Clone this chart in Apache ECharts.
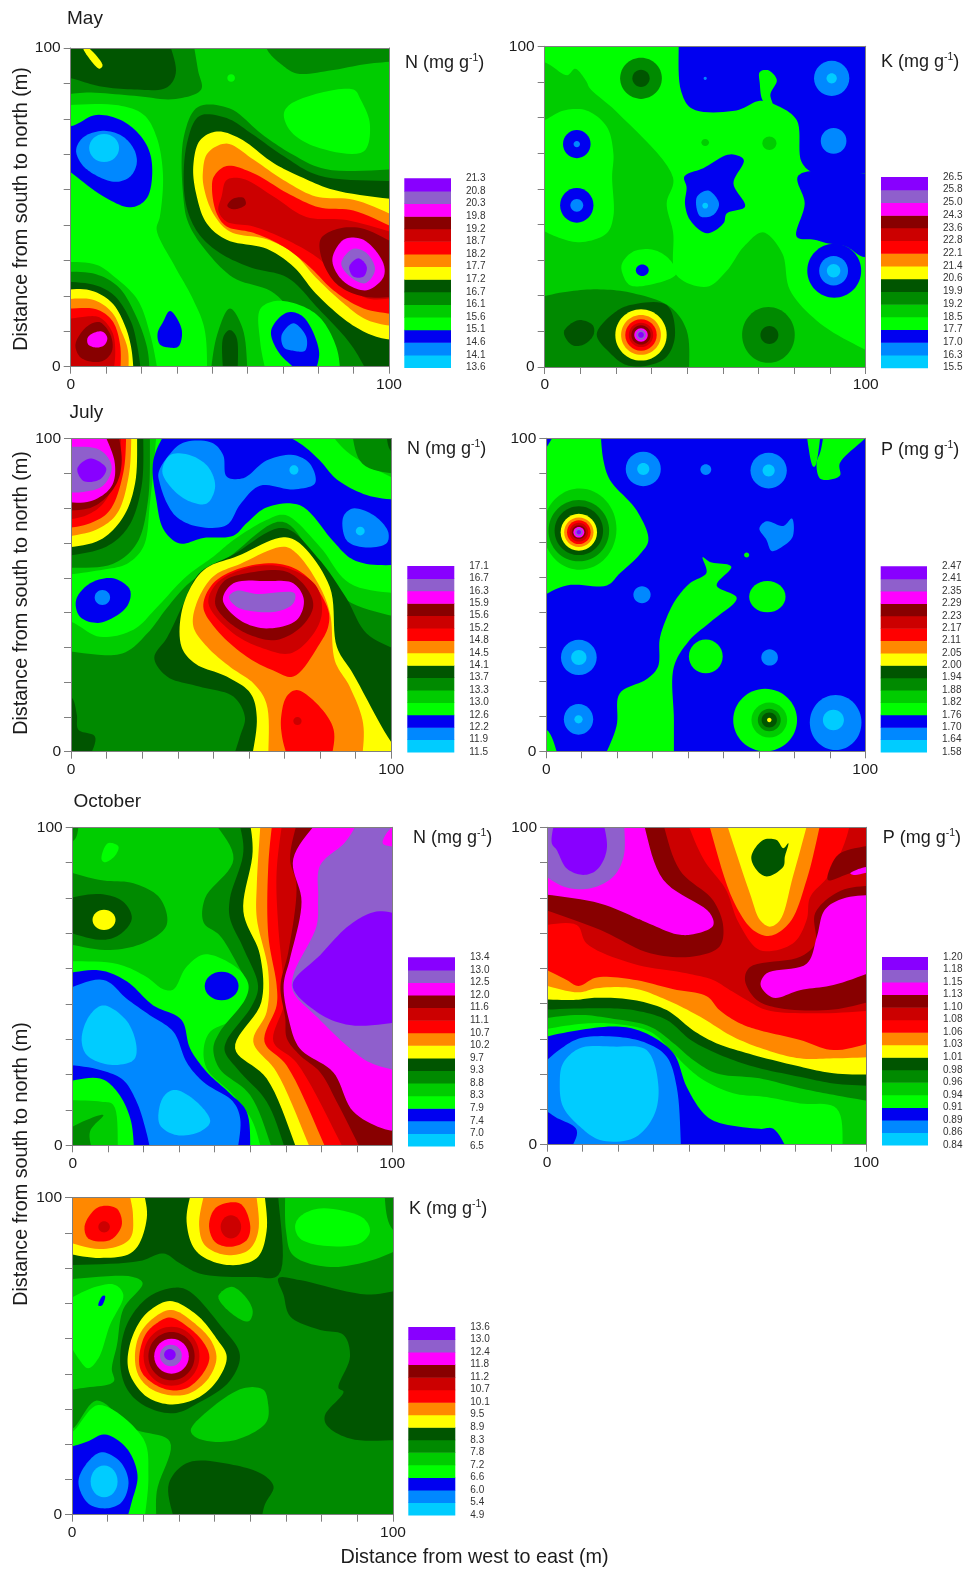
<!DOCTYPE html>
<html><head><meta charset="utf-8"><title>Soil nutrient contour maps</title>
<style>html,body{margin:0;padding:0;background:#fff}#c{width:966px;height:1570px}</style>
<script src="https://cdn.jsdelivr.net/npm/echarts@6/dist/echarts.min.js"></script></head>
<body><div id="c"></div>
<script>
// Colour of each contour band, lowest class first.
const bandColors=['#00CCFF','#0088FF','#0000F0','#00FF00','#00CC00','#008A00','#005500','#FFFF00','#FF8800','#FF0000','#CC0000','#880000','#FF00FF','#8F5FCC','#8800FF'];
// Class-boundary labels, top of the scale first.
const mayNLabels=['21.3','20.8','20.3','19.8','19.2','18.7','18.2','17.7','17.2','16.7','16.1','15.6','15.1','14.6','14.1','13.6'];
const mayKLabels=['26.5','25.8','25.0','24.3','23.6','22.8','22.1','21.4','20.6','19.9','19.2','18.5','17.7','17.0','16.3','15.5'];
const julNLabels=['17.1','16.7','16.3','15.9','15.6','15.2','14.8','14.5','14.1','13.7','13.3','13.0','12.6','12.2','11.9','11.5'];
const julPLabels=['2.47','2.41','2.35','2.29','2.23','2.17','2.11','2.05','2.00','1.94','1.88','1.82','1.76','1.70','1.64','1.58'];
const octNLabels=['13.4','13.0','12.5','12.0','11.6','11.1','10.7','10.2','9.7','9.3','8.8','8.3','7.9','7.4','7.0','6.5'];
const octPLabels=['1.20','1.18','1.15','1.13','1.10','1.08','1.06','1.03','1.01','0.98','0.96','0.94','0.91','0.89','0.86','0.84'];
const octKLabels=['13.6','13.0','12.4','11.8','11.2','10.7','10.1','9.5','8.9','8.3','7.8','7.2','6.6','6.0','5.4','4.9'];

// Contour regions in metres. [class, x,y, x,y, ...] is a closed contour; [class, cx,cy, rx,ry] an oval contour.
const mayNRegions=[
[3,-5,82,15,82,23,79,27,72,29,60,28,47,27,43,33,31,38,22,42,12,43,-5,28,-5,25,10,21,21,14,28,8,32,-5,33],
[5,-5,105,38,105,40,93,41,87,33,84,20,85,5,86,-5,85],
[6,-5,105,30,105,33,92,30,87.5,20,87,9,88,0,90.5,-5,91],
[7,4,100,5.5,100,10,94.5,9,93.5,6,96.5],
[5,60,105,62,99,66,95,71,92,82,93,93,95,105,96,105,105],
[3,50.4,90.6,1.2,1.2],
[3,67,79.6,70,83,88.8,87,91,84,94,76,92,67.5,77,69,69,74],
[5,-5,30,8,29,15,25,20,17,24,6,25,-5,-5,-5],
[6,-5,27,8,25.5,14,22,19,14,21,6,22.5,-5,-5,-5],
[7,-5,24,6,24,13,20,17,13,19,6,20,-5,-5,-5],
[8,-5,21,7,21,13,17,16,11,18,5,18,-5,-5,-5],
[9,-5,18,8,18,13,14.5,15.5,7,15.5,-5,-5,-5],
[10,-5,14,3,15.5,9,15.5,13,11,14,5,13,-5,-5,-5],
[11,1.5,7,5,12.5,9,14,12.5,10,13,5,10.5,2,7,1.5,3,3],
[12,5.3,9,7,10.5,10,11,11.5,9,10.5,6.7,8,6,5.5,7],
[2,-5,77,0,75.5,8,79,16.5,77,23,71,25.5,64,24,53,19,50,11,53,0,61,-5,65],
[1,1.7,68,4,72,10,74,16,72.5,20,68,20.7,63.5,18.5,59.5,14,58,8,60,3.5,63.5],
[0,10.5,68.6,4.7,4.4],
[2,27.3,10.5,29,14,31.2,17.5,34.9,11.5,33.8,6.3,31,6,28,7],
[5,43.5,-5,46,10,50,18.3,54,12,55.8,-5],
[6,48,-5,48,9.5,50,11.5,52,9.5,52.4,-5],
[5,35.5,52,35.5,72,40,81.5,50,81,60,73,69,67,80,62,105,62,105,-5,85,-5,74,10,64,23,51,28,42,37,37,45],
[3,59.5,18,63.7,20.5,70,20,78,15.7,83.5,6,85,-5,62,-5,59.5,8],
[2,63,11.5,68,17,73,15.7,78,5,77,-1.5,72,-2,65,5],
[1,66.3,10,70,13.6,74,9.4,73.6,5,70,5,67,6],
[6,36,52,36.5,70,40.5,78.7,49,78,57,73,67,66,78,60,105,58,105,-5,95,-5,88,7,78,18,68,28,57,31,47,35.6,40,42],
[7,38.5,62.8,40.6,71,45.9,73.8,53,71.7,63.7,63.9,72,59.7,82.5,55.5,105,52,105,8,96,9.4,87.7,13.6,77,23,70,31.4,61.6,37,49,39.8,42.7,45,39.6,53.4],
[8,41.5,60.7,43,67,49,70,57.4,65,66.8,58.6,77,53.4,88.8,52.4,105,46,105,12,93,14.7,85.6,20,77,28,70,35.6,61.6,40,50,42.4,44.8,48,42,55.5],
[9,44.4,55.5,45,59.7,49,63,57.4,60.7,68,54.5,78,50,88.8,49,105,42,105,16,92,18.3,82.5,24,75,31.4,66.8,37.7,57.4,42,49,44,45.9,48],
[10,47.4,53.4,49,58.6,54,59,63.7,53.4,74,47,86.7,46,105,41,105,22,93,21.5,84.6,28,77,34.6,67.8,39.8,57.4,44,49,45.5,46.4,49],
[11,49.2,50.5,51,52.7,54.3,53,55,51,53,49.7,50.5,49.5],
[11,78.5,40,83,43,91,43.5,105,37,105,22,92,22,83.5,26,79,33.5],
[12,82.3,34.5,86,40,92,39.8,98.2,32.5,98.2,28,93,24,86.7,26,83,30.4],
[13,85,32.5,88.8,37,93,35.6,95.6,30.4,92.5,26.2,87.7,28.3],
[14,87.5,31.4,90.4,34,93,31.4,92,28.3,88.8,28.3]
];
const mayKRegions=[
[4,-5,95,0,95,7,91,9.5,93,13,89,14,87,23,79,40,59,38,51,40,42,41,28.7,50.5,25,56.7,30,62,37.5,68,42,74,35.5,76.4,24,85.8,13.6,100,5.3,105,3,105,-5,-5,-5],
[3,24,32,27.6,36,34,36.5,39,33.4,41,29,32,25.5,26.6,25.5,24.5,28.4],
[3,-5,75,0,77,6,80,13,80,19.3,75,21.4,66.6,21,59.4,21.4,47,19.3,41.7,11,38.9,3.7,40.6,-5,45],
[5,30,90,6.5,6.4],
[6,30,90,2.7,2.7],
[4,50,70,1.2,1.1],
[4,70,69.8,2.2,2.1],
[5,-5,21,7,23.5,17.4,24.2,27.6,23,39,18.8,44.2,11.5,45,-5,2.7,-5,-5,4],
[6,6,11,10.5,14.6,15,13,15.2,10,12,6.9,8.4,6.9],
[6,16.2,10.2,21.4,16.7,26.6,19.3,38,19.3,40.6,10,38,3.2,32.8,0.6,25.5,0.6,20.4,4.3],
[7,30,10,8,8],[8,30,10,6.2,6.2],[9,30,10,4.9,4.9],[10,30,10,3.8,3.8],[11,30,10,3,3],[12,30,10,2.1,2.1],[13,30,10,1.5,1.5],[14,30,10,0.9,0.9],
[5,69.7,10,8.2,8.7],[6,70,10,2.8,2.8],
[2,41.7,105,42.5,86,46,80.5,59.7,80,67,83,72,81.7,78.5,77,80,64,84,60.4,99,60.4,105,61,105,105],
[3,68,83,67,88.5,67,92,69.7,92.5,72.3,89.5,70.3,85,71,81.5],
[2,79,59.7,105,60.2,105,34.4,99,34.4,94,37.5,88,38.6,84,39.7,78.5,40.6,81,51],
[2,90.2,30,8.4,8.4],
[2,10,69.5,4.3,4.4],[2,10,50.4,5.2,5.4],
[2,43.5,59.4,49.4,62,57.7,66.3,62,64.6,58.8,57.3,62.4,50,56.7,47.9,55.7,44.8,50.5,41.7,45.3,45.8,43.7,50.9,44.2,56],
[2,30.4,30.2,2,1.8],
[1,47.4,53,51,55,54.3,51,52.5,47.4,48.4,47],
[1,10,69.5,1,1],[1,10,50.4,2,2],[1,50,90,0.5,0.5],
[1,89.4,90,5.5,5.5],[1,90,70.5,4,4],[1,90,30,4.5,4.6],
[0,89.4,90,1.6,1.6],[0,90,30,2.1,2.1],[0,50,50.3,0.9,0.9]
];
const julNRegions=[
[3,27,105,78.8,105,86,96,105,85,105,50,87,53.8,77.7,65.5,67,75.6,61,74,50.7,67.6,44.4,62.3,36,56,26.7,46,19.5,39,9,36.7,0,41.5,-5,42,-5,56,9,58,17.4,60,22.6,65.5,24.7,80],
[5,87,105,91,92,105,88,105,105],
[6,98,105,100,96,105,96,105,105],
[5,-5,32.5,16,31.4,24,38,30,46,37,54,49,62,66,73.5,77,60,86,48.5,105,42,105,-5,-5,-5],
[6,26,30,30,36.5,34.8,46.6,40,57,50.7,63,66.3,71.5,77,62,86,49,92.3,37.8,105,31,105,-5,49.6,-5,52.8,5,54.3,11,50.7,17.6,40,20.8,30,24],
[6,-5,17.5,0,17.5,1.8,12,2.3,7,7.5,4.8,4.4,-5,-5,-5],
[7,34.5,33.5,35,46.6,41.4,58,52,62.5,66.3,68.5,71.5,66.5,80.8,52.6,83,33.5,88,25,100,3,105,-3,105,-5,56,-5,58,11,56,18.7,48.6,24,39,28],
[8,38.2,40,39.2,47.4,44.4,56,52.8,60,66.3,65.5,70.4,63.4,77.7,52.7,80.9,44,82.4,29,87,20.8,91.2,9,90.7,-5,61.6,-5,61,15.4,57,21.8,49.8,27,42.5,33.5],
[9,41.3,46.3,44.4,53.8,52.8,58.6,65.2,60,73.6,56,80.3,45.3,80.3,40,77.7,34.6,69.4,24,63,26,54.8,30.4,45.5,38.9],
[10,42.9,47.4,45.5,53.8,52.8,58,61,59.6,69.4,58,76.7,52.7,78.3,44,75,36.7,68.4,31.4,60,33,50.7,37.8],
[11,45,47.4,47.6,54.3,54.8,57,67.3,57.5,74,51.6,75.6,46.3,72,40,64.2,35.7,55.9,37.3,48.6,42],
[12,47.4,48.5,50.7,53.8,61,54.5,69.4,53.8,72.7,48.5,70.4,42,61,39.4,52.8,42],
[13,49.3,49.5,51.7,51.4,58,50.4,69.8,50.6,69.4,47.4,65.2,45,58,44.7,51.7,46.3],
[9,65.6,11,67.3,17.6,70.4,19.7,76.7,15.4,82,7,80.8,-5,68.5,-5,65.9,4.8],
[10,70.7,9.8,1.3,1.3],
[2,30.9,105,59,105,71.5,98.5,77.7,93,83,87,92.3,82,105,80,105,59.6,92.3,60,87,62,81.8,67.3,71.5,78.7,61,78,54.8,73,50.7,69,41.3,68.3,34,66.5,29,70.8,26.7,80,25.7,93],
[1,27.3,89,30,94,35,98.7,44,98.7,47.5,94.8,48.6,87.9,53.8,87.4,61,93,69.4,94.8,74.6,92,76.2,85.8,69.4,83.8,59,85,52.8,79,48.6,72.4,39.2,72,33,75,30,79.3,27.7,85.8],
[0,28.5,89.5,31,94.8,37,94.8,42.8,91,45,84.7,42.4,79.3,37.2,79.9,32,83.6],
[0,69.6,90,1.4,1.5],
[1,85,75,88,77.7,94.4,75.6,99,70.3,98.5,66.6,91.3,65.3,86,67.6],
[0,90.3,70.5,1.4,1.4],
[2,1.6,48.5,6,53.8,13.2,55.4,18.4,51.7,17.4,46.3,9,41.2,2.8,43.1],
[1,9.8,49.3,2.4,2.4],
[5,24.7,105,24,80,20.5,66.5,13,60,-5,58.6,-5,105],
[6,22.6,105,22,84.6,18,72,11,65.5,-5,61.8,-5,105],
[7,20.7,105,20,85.7,16.3,75,9,67.6,-5,64.6,-5,105],
[8,19,105,18,88,14.3,76,8,71,-5,68,-5,105],
[9,17.4,105,16.3,89,12,77,6,73,-5,70.8,-5,105],
[10,15.8,105,14.8,91,10.6,80,5,75.6,-5,73.5,-5,105],
[11,14.3,105,15.8,92,13.7,84.7,7,78.3,-5,76.7,-5,105],
[12,9,105,13.7,92,12.6,84.7,6,80,-5,80,-5,105],
[13,-5,97.5,9,96.4,12.7,91,10,85,3.9,83,-5,83],
[14,2,90.5,6,93.7,11,90.5,9,87,3.9,86.5]
];
const julPRegions=[
[3,-5,89,0,97,4.8,105,16.8,105,17.9,93,20,86.6,28.3,77,32,67.5,29.4,63,23,56.8,19,53,6.4,53,-5,47.5],
[4,10.5,71,11.5,13],[5,10.2,70.5,9.5,9.8],[6,10.2,70.5,7.6,7.8],
[7,10.2,70,5.7,5.9],[8,10.2,70,4.6,4.7],[9,10.2,70,3.7,3.8],[10,10.2,70,2.9,3],[11,10.2,70,2.2,2.2],[12,10.2,70,1.7,1.7],[13,10.2,70,1.2,1.2],[14,10.2,70,0.7,0.7],
[3,81,105,86.5,105,84.2,91,83.6,91],
[3,87.5,105,105,105,100,100,92,92,92,88,86,87,84.7,92,86,96],
[3,-5,7,0,7,4.8,-5,-5,-5],
[3,16.8,-5,22,8,23,18.5,31.4,23,35,27,35.5,35.5,36.7,40,40.3,48,45,53.7,50.2,57,49,62,51.3,60.5,58,59,53.4,53,59.7,49,52.3,42,45,35.6,40,27,40,10,40,-5],
[3,69.3,49.4,5.7,5],[3,50,30.3,5.3,5.4],[3,62.8,62.7,0.8,0.8],
[3,68.6,10,10,10],[4,69.9,10,5.6,5.6],[5,69.9,10,3.6,3.6],[6,69.9,10,2.4,2.4],[7,69.9,10,0.7,0.7],
[1,30.4,90.2,5.5,5.5],[0,30.4,90.2,1.9,1.9],[1,50,90,1.7,1.7],[1,69.7,89.7,5.7,5.7],[0,69.7,89.7,1.9,1.9],
[1,66.8,71.2,69,73.5,74.3,72,77,74.4,77.2,68.5,73.2,64.9,70.6,64,69,67.6],
[1,30,50,2.7,2.7],[1,10.2,30,5.6,5.6],[0,10.2,30,2.4,2.4],[1,70,30,2.6,2.6],[1,10.1,10.2,4.6,4.9],[0,10.1,10.2,1.3,1.3],
[1,90.7,9.2,8.1,8.8],[0,90,10,3.3,3.3]
];
const octNRegions=[
[3,9,90,11,95,14.3,94,13.2,91,10,89],
[5,-5,105,2.3,105,0.5,96,-5,95],
[5,-5,87.1,8.6,83.4,19,82.4,27.3,77.7,29.4,69.3,23,64,11.7,61.4,-5,64],
[6,-5,77,8.6,79,15.8,76.6,18.5,71.4,15.3,66.7,9.6,64.6,-5,68],
[7,9.8,70.9,3.6,3.2],
[3,-5,58,14,57,23,53,28.5,49,31.5,49,35.5,56,41,60,48,58,54.5,52.5,56,46,49,39,43,35.7,41,30.5,42,24,50,16,56,8,60,-5,-5,-5],
[4,-5,14.3,9,13.7,12.7,12.7,14.3,-5,-5,-5],
[5,-5,3,3,7.4,9.6,9.5,5.4,4.3,7,-5,-5,-5],
[5,42,105,50.3,90,41.4,77.7,41,70,46,66,52.3,55.5,55,50.4,54,46,46,35.6,44,30.5,46,24,55.5,15.8,63.8,-5,105,-5,105,105],
[6,51.3,105,53.4,92.4,49.2,77.7,49.2,71.4,53.4,62,58,50,56,43.8,48.2,33,47.6,29.5,52.4,23,60.7,13.7,67.8,-5,105,-5,105,105],
[7,55,105,56.3,92.4,53.4,73.5,58.6,59.8,59,45,50.8,30.5,60.7,21,71.6,-5,105,-5,105,105],
[8,59,105,57.6,82,57.6,71.4,61.2,54.6,60.7,42,56.5,32.6,63.8,23,76,-5,105,-5,105,105],
[9,62.8,105,61.2,88,61.2,66,63.8,50.4,63.8,44,60,32.6,67,25,81,-5,105,-5,105,105],
[10,66,105,63.8,86,64.3,69,66,50.4,66,44,62.8,32.6,70,26,86.8,-5,105,-5,105,105],
[11,71,105,68,90,70,82,67.5,61,65,50,66.5,40,67,33.6,71,28.4,77.4,23,82.6,13.7,92,-5,105,-5,105,105],
[12,79,105,69,90,71.6,76.6,68,58.8,66,50.4,67.5,40,71,30.5,81.5,23,87.8,10.6,98.7,4.8,105,4.8,105,105],
[13,91,105,85.4,95.5,77.4,88,76.8,77.7,76.3,69,69,53.5,69,48.3,76.8,40,86.7,30.5,93,26,105,22.6,105,105],
[12,97,95,100,100,105,100,105,95,100,94],
[14,68.8,50.4,77.4,59.8,86.7,69.3,95,73.5,105,72,105,39,86.7,37.8,76.3,42],
[2,46.6,50.1,5.3,4.5],
[2,-5,53.6,8.6,55,17,51.5,25.2,44,34,39.5,36.7,30.5,42,23,49.2,16.3,54.4,10.6,55.7,-5,19.5,-5,18,8.5,13.8,17,8.6,21,-5,19.5],
[1,-5,48,9.6,52,17,46,24,41,31.5,35.7,35.7,26,41,19.8,50,13.9,52.4,8.5,51.1,-5,25,-5,23,4.3,20,13.7,15.8,20.5,8.6,23.7,-5,25.8],
[0,2.8,33.6,5.4,41,9.6,44,17,39,20,30.5,19,26.8,11.7,25.3,4.4,28.4],
[0,27.3,12.7,29.4,16.4,32.5,17.4,39.8,12.7,43,7.4,39.8,4.3,32.5,3.2,27.3,6.4]
];
const octPRegions=[
[10,-5,105,42.5,105,49,90,56,80.4,60,70,66.7,61.3,77,63.4,81.3,70.8,82.4,78,88,84.5,92.8,94,96,105,105,105,105,42.4,84.4,41.4,68.8,42.4,62.5,45.6,57.3,48.7,52,51.9,43.7,54,27,57,12.4,63.4,9.3,69.2,-5,68.7],
[11,-5,105,35.2,105,41.6,86.5,52,77,55.2,68.7,54,62.4,45.8,59.3,32.3,60.3,16.6,67.7,-5,75.6],
[12,-5,105,29.2,105,36.4,83.5,51,73,52,69,45.8,66.3,40.6,66.3,31.2,70,16.6,76,-5,79.5],
[11,29,71,33,66,31,67,28.5,70],
[13,-5,105,24,105,24,90.8,20.8,84.5,14.5,81,6.2,81,-5,87.6],
[14,1.5,95,3,105,17,105,18.7,92.9,15.6,86.6,11.4,85,6.2,87,3,92.9],
[8,49.5,105,58.3,77,64.6,67.6,69.8,65.8,76,70,81.3,83.4,86.5,105],
[7,55,105,63.6,79,66.7,70.8,69.8,68.7,73,70.8,77,84.4,82.6,105],
[6,64,90.8,67.7,96,71.9,96,74,93.4,75.6,95,74.5,90.8,74,87.6,68.8,84.5,65.6,86.6],
[11,105,95,91.8,91.8,89,88,88,83.4,95,85.5,105,87],
[12,95,85.5,100,87.5,105,87,96,85],
[11,105,82,92,80,84,73,84,63.4,79.3,59.2,63.6,56,62,51.9,65.7,45.6,73,43,89.7,42.6,105,46],
[12,105,79,92.8,77.6,87,74,84.5,65.5,81.3,57,68.8,54,66.9,50.3,70.9,46.3,79.2,48.7,89.7,50.3,105,55.6],
[8,-5,57.5,6,52,9.8,50,15.6,52.7,27,52,39.6,49,50,46.8,54,42.4,60.5,38.2,66.8,36,79.3,33,89.7,29.8,105,33,105,-5,-5,-5],
[7,-5,51.4,9.8,48,15.6,49.3,27,49.3,37.5,45.6,48,40.3,58.3,34,68.8,29.8,79.2,27.2,89.7,27.2,105,27.7,105,-5,-5,-5],
[6,-5,46,8.3,45.6,15.6,46.3,27,45.6,37.5,42.4,45.8,36,53,32,64.6,28.3,79.2,24.6,89.7,22.5,105,22,105,-5,-5,-5],
[5,-5,42.4,16.6,43,27,42.4,37.5,39.3,45,33,53,28.8,64.6,24.6,79.2,21.4,89.7,19.3,105,18.3,105,-5,-5,-5],
[4,-5,39.3,10,40.9,19.8,39.8,32.3,37.2,39.6,32,45.8,26.7,53,22.5,66.6,20.9,79.2,17.8,89.7,15.7,105,13,105,-5,-5,-5],
[3,-5,35.6,10,38,19.8,38.2,32.3,35.6,39.6,28.8,43.7,24.6,49,20.4,58.3,16.2,68.8,15,79.2,13,90.7,11.4,92.8,-5,-5,-5],
[2,-5,33,9.4,36,23,37.2,31.2,35,39.6,28.8,43.7,18.3,49,9.9,53,7.2,66.6,5,70.9,5,77,-5,-5,-5],
[1,-5,22,4,30,10.3,33.5,21.8,34,31.2,32,37.5,27.7,40.6,18.3,42.2,-5,5.6,-5,9.3,4.6,2.5,8.8,-5,14],
[0,4,19.3,5,25.6,10.3,30.4,20.8,30.9,31.2,29.8,34.9,18.3,33.3,8.8,27,2,16.6,1.5,10.3,5.7,5,12]
];
const octKRegions=[
[6,-5,105,64,105,64.3,75.6,56.5,75,40,76,33.6,79.3,28.5,82.4,21,80,-5,78.5],
[7,-5,83,8.7,81,19,83,23.3,93.5,21.7,105,-5,105],
[8,-5,87,9.8,83.8,18,87,19,94.5,17,105,-5,105],
[9,4,91.4,8.2,97,13.9,96.6,15.5,91.4,11.8,86.6,5,87.2],
[10,10,90.8,1.8,1.8],
[7,35.7,92.4,37.8,105,59.6,105,60.6,89.3,57.5,80.9,48.2,78.8,38.8,83],
[8,39.6,91.4,42,105,57,105,58,89.3,55,83.5,48.2,81.9,41.4,85],
[9,42.7,91.4,45,97,52.3,98.2,55.5,91.4,54.4,86.6,49.2,84.5,44.5,86.1],
[10,49.5,90.8,3.2,3.7],
[4,66.4,105,97,105,99,91.4,105,85,91.8,79.8,79.3,78.2,68.8,81.9,66.7,89.3],
[3,69.5,90.9,71,94,77.3,96.6,90.8,93.5,92.8,89.3,89.7,85.6,77.3,85,71,87.2],
[4,-5,74,19,75,22,73,16,64.9,14,53.5,12.4,46,13,42,3.5,40,-5,38.8],
[3,-5,66,7.7,72,13.4,72.5,16,69.3,11.8,59.8,8.2,49.3,5,46.2,2,49.3,-5,62],
[2,8.2,66,9.5,69,10.3,69,9.3,66],
[6,15,48,17,59.8,23.3,68.3,30.5,71.4,35.7,71,46,60,52.3,50.4,49,42,40,35.6,31.6,32,22.2,34.6,17,39.9],
[7,17.3,48.3,19,56.7,23.3,63.6,30.5,67.4,38.9,63,45,55.6,48.2,49.8,45,42,38.9,36.7,30.5,34.8,23.3,37.2,18.6,43],
[8,19.6,49.8,21,56.7,25.3,62,31,64.6,38.9,59.8,43.5,54.6,45,49.3,42.5,43,36.7,38.3,30.5,37.7,24.3,39.9,20.7,44],
[9,20.9,49.3,22.8,56.7,26.4,60.4,30.5,62.2,36.7,58.8,41.5,53.5,42.8,49.3,40.4,44,35.7,39.9,30.5,39.3,25.3,41.4,21.7,45],
[10,31,50,8.7,9.3],[11,31,50,7.2,7.6],[12,31,50,5.4,5.5],[13,30.8,50.2,3.4,3.4],[14,30.5,50.5,1.8,1.8],
[4,45.6,68.8,49.7,71.9,54.4,68.3,56.3,64,55,61,50.3,63],
[6,64.3,74.6,71,74,91.8,69.5,105,71.4,105,23.6,86.6,24,79.3,28.3,78.8,31.4,84.6,38.8,83,40,86.6,49.8,84.6,56.7,77.3,58.3,68,62.5,65.9,69.3],
[4,37,26.7,42,32.5,53.4,39.9,59.6,39.4,61,35.6,60.6,29.3,52.3,24,44,23,38.3,24.6],
[4,-5,26,0,27,7.7,36,19,27.2,30.5,23,26.4,7.3,26.4,-5,-5,-5],
[3,-5,24,0,26,8.2,34.6,22.2,24,23.8,12.5,22.2,-5,-5,-5],
[2,-5,20,4.6,23,10.3,25.3,17,21,20.4,12.5,18.6,4,16,-5,2.5,-5,-5,3],
[1,2,10.4,5,16.7,9.2,19.7,15,16.7,17.6,10.4,15.5,4,10.8,2,5,3.6],
[0,10,10.5,4.2,5],
[6,30.2,9.9,36.3,16.5,50.3,15.7,59.7,12.5,62.8,8.8,60,3,58.5,-5,32.6,-5]
];

// Layout (pixels): plot box, scale box, heading position.
const layout=[
 {regions:mayNRegions,labels:mayNLabels,base:4,name:'N',box:[70.7,48,318.3,318.7],scale:[404.3,178.3,46.7,189.2],head:[405,53]},
 {regions:mayKRegions,labels:mayKLabels,base:3,name:'K',box:[544.7,46.3,321,320.7],scale:[881,177,47,190.7],head:[881,52]},
 {regions:julNRegions,labels:julNLabels,base:4,name:'N',box:[71,438.7,320.3,313],scale:[407.3,566,47,186],head:[407,439]},
 {regions:julPRegions,labels:julPLabels,base:2,name:'P',box:[546.3,438.3,319,313],scale:[880.7,566.3,46.3,185.7],head:[881,440]},
 {regions:octNRegions,labels:octNLabels,base:4,name:'N',box:[72.7,827.3,319.6,318],scale:[408,957.3,47,188.7],head:[413,828]},
 {regions:octPRegions,labels:octPLabels,base:9,name:'P',box:[547,827.3,319.3,317.4],scale:[882,957,46,188],head:[882.7,828]},
 {regions:octKRegions,labels:octKLabels,base:5,name:'K',box:[72,1197.7,321,317],scale:[408.3,1327,47,188],head:[409,1199]}
];
const monthTitles=[['May',67,19],['July',69.5,413],['October',73.5,802]];
const tickCount=9;

const axisGray='#7f7f7f', ink='#1c1c1c', fontFam='"Liberation Sans",Arial,sans-serif';
const grid=[],xAxis=[],yAxis=[],series=[],title=[];
function addAxes(g,h,v,xCfg,yCfg){
  const gi=grid.length; grid.push(g);
  const xi=xAxis.length, yi=yAxis.length;
  xAxis.push(Object.assign({gridIndex:gi,type:'value',min:0,max:h,splitLine:{show:false}},xCfg));
  yAxis.push(Object.assign({gridIndex:gi,type:'value',min:0,max:v,splitLine:{show:false}},yCfg));
  return {xi,yi,gi};
}
const tickLbl=v=>{const r=Math.round(v);return (r===0||r===100)?String(r):'';};
// Centripetal Catmull-Rom outline through the contour's vertices (pixel space).
// Vertices beyond the plot box only close the shape: the curve leaves them straight.
function contourPath(pts,off){
  const n=pts.length,out=[],d=(a,b)=>Math.max(Math.sqrt(Math.hypot(a[0]-b[0],a[1]-b[1])),1e-3);
  const mix=(a,b,ta,tb,t)=>[(tb-t)/(tb-ta)*a[0]+(t-ta)/(tb-ta)*b[0],(tb-t)/(tb-ta)*a[1]+(t-ta)/(tb-ta)*b[1]];
  for(let i=0;i<n;i++){
    const j=(i+1)%n,p1=pts[i],p2=pts[j];
    const p0=off[i]?[2*p1[0]-p2[0],2*p1[1]-p2[1]]:pts[(i-1+n)%n];
    const p3=off[j]?[2*p2[0]-p1[0],2*p2[1]-p1[1]]:pts[(i+2)%n];
    const t0=0,t1=t0+d(p0,p1),t2=t1+d(p1,p2),t3=t2+d(p2,p3);
    for(let s=0;s<10;s++){
      const t=t1+(t2-t1)*s/10;
      const a1=mix(p0,p1,t0,t1,t),a2=mix(p1,p2,t1,t2,t),a3=mix(p2,p3,t2,t3,t);
      const b1=mix(a1,a2,t0,t2,t),b2=mix(a2,a3,t1,t3,t);
      out.push(mix(b1,b2,t1,t2,t));
    }
  }
  return out;
}
layout.forEach(p=>{
  const [l,t,w,h]=p.box;
  const step=100/tickCount;
  const mainAxis={interval:step,z:6,axisLine:{show:true,onZero:false,lineStyle:{color:axisGray,width:1}},
    axisTick:{show:true,length:7,lineStyle:{color:axisGray,width:1}},
    axisLabel:{show:true,margin:10,fontSize:15.5,color:ink,fontFamily:fontFam,formatter:tickLbl,hideOverlap:false}};
  const a=addAxes({left:l,top:t,width:w,height:h,show:true,backgroundColor:bandColors[p.base],borderWidth:0},100,100,
    Object.assign({position:'bottom'},mainAxis),Object.assign({position:'left'},mainAxis));
  const edge={interval:step,z:6,axisLine:{show:true,onZero:false,lineStyle:{color:axisGray,width:1}},axisTick:{show:false},axisLabel:{show:false}};
  xAxis.push(Object.assign({gridIndex:a.gi,type:'value',min:0,max:100,position:'top',splitLine:{show:false}},edge));
  yAxis.push(Object.assign({gridIndex:a.gi,type:'value',min:0,max:100,position:'right',splitLine:{show:false}},edge));
  series.push({type:'custom',coordinateSystem:'cartesian2d',xAxisIndex:a.xi,yAxisIndex:a.yi,clip:true,silent:true,animation:false,
    data:p.regions.map((r,i)=>[i,r[0]]),
    renderItem:(params,api)=>{
      const r=p.regions[params.dataIndex], fill=bandColors[r[0]];
      if(r.length===5){
        const c=api.coord([r[1],r[2]]), e=api.coord([r[1]+r[3],r[2]+r[4]]);
        return {type:'ellipse',shape:{cx:c[0],cy:c[1],rx:Math.abs(e[0]-c[0]),ry:Math.abs(e[1]-c[1])},style:{fill}};
      }
      const pts=[],off=[];
      for(let i=1;i<r.length;i+=2){
        pts.push(api.coord([r[i],r[i+1]]));
        off.push(r[i]<0||r[i]>100||r[i+1]<0||r[i+1]>100);
      }
      return {type:'polygon',shape:{points:contourPath(pts,off)},style:{fill}};
    }});
  // colour scale
  const [sl,st,sw,sh]=p.scale;
  const rev=p.labels.slice().reverse();
  const s=addAxes({left:sl,top:st,width:sw,height:sh},1,15,
    {show:false},
    {position:'right',interval:1,axisLine:{show:false},axisTick:{show:false},
     axisLabel:{show:true,margin:15,fontSize:10,color:'#333',fontFamily:fontFam,formatter:v=>rev[v],padding:[2,0,0,0]}});
  series.push({type:'custom',coordinateSystem:'cartesian2d',xAxisIndex:s.xi,yAxisIndex:s.yi,silent:true,animation:false,
    data:bandColors.map((c,i)=>[i,i+1]),
    renderItem:(params,api)=>{
      const a0=api.coord([0,api.value(0)]), b0=api.coord([1,api.value(1)]);
      return {type:'rect',shape:{x:a0[0],y:b0[1],width:b0[0]-a0[0],height:a0[1]-b0[1]+0.5},style:{fill:bandColors[params.dataIndex]}};
    }});
  title.push({text:'{a|'+p.name+' (mg g}{s|-1}{a|)}',left:p.head[0],top:p.head[1],padding:0,
    textStyle:{fontFamily:fontFam,fontWeight:'normal',rich:{a:{fontSize:18,fontWeight:'normal',color:ink,fontFamily:fontFam,lineHeight:21},s:{fontSize:10.5,fontWeight:'normal',color:ink,fontFamily:fontFam,verticalAlign:'top',lineHeight:21}}}});
});
monthTitles.forEach(m=>title.push({text:m[0],left:m[1],top:m[2]-10,padding:0,textStyle:{fontFamily:fontFam,fontSize:19,fontWeight:'normal',color:ink}}));
const axisText=(text,x,y,rot)=>({type:'text',x,y,rotation:rot,style:{text,fontFamily:fontFam,fontSize:19.8,fill:ink,textAlign:'center',textVerticalAlign:'middle'}});
const graphic=[
 axisText('Distance from south to north (m)',22,209,Math.PI/2),
 axisText('Distance from south to north (m)',22,593,Math.PI/2),
 axisText('Distance from south to north (m)',22,1164,Math.PI/2),
 axisText('Distance from west to east (m)',474.5,1558,0)
];
const chart=echarts.init(document.getElementById('c'),null,{width:966,height:1570});
chart.setOption({animation:false,backgroundColor:'#fff',grid,xAxis,yAxis,series,title,graphic});
</script></body></html>
